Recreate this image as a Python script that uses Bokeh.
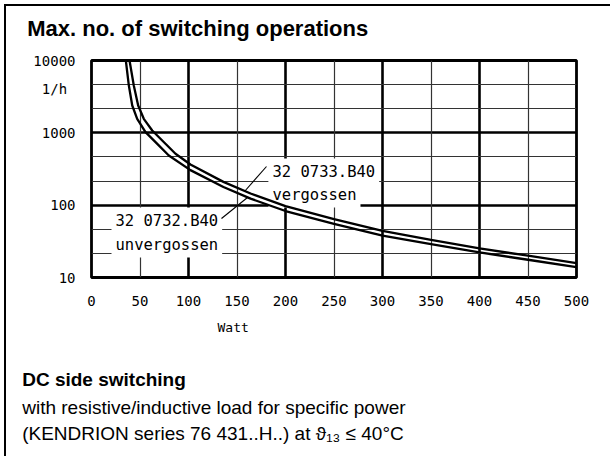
import math
from bokeh.plotting import figure
from bokeh.models import FixedTicker, Grid, Label, Range1d, Title
from bokeh.embed import file_html
from bokeh.resources import INLINE

# ---------------- data ----------------
watt_ticks = [0, 50, 100, 150, 200, 250, 300, 350, 400, 450, 500]
n_ticks = [10, 100, 1000, 4100, 10000]
n_tick_labels = ["10", "100", "1000", "1/h\u00a0", "10000"]
x_major_grid = [100, 200, 300, 400]
x_minor_grid = [50, 150, 250, 350, 450]
y_major_grid = [100, 1000]
y_minor_grid = [21.54, 46.42, 215.4, 464.2, 2154, 4642]

# 32 0733.B40 vergossen (upper line of the pair)
verg_w = [39.2, 43.6, 48.1, 53.9, 62.6, 72.9, 86.6, 102, 136, 164, 200, 250, 300, 350, 400, 450, 500]
verg_n = [10000, 4508, 2388, 1563, 1077, 783, 513, 365, 210, 145, 97, 64, 44, 33, 25.2, 20, 15.8]
# 32 0732.B40 unvergossen (lower line of the pair)
unverg_w = [35.4, 38.5, 42.0, 47.1, 55.7, 66.0, 79.7, 102, 136, 164, 200, 250, 300, 350, 400, 450, 500]
unverg_n = [10000, 4508, 2388, 1563, 1021, 743, 486, 305, 178, 123, 83, 55, 38, 29, 22.2, 17.6, 13.9]

title_text = "Max. no. of switching operations"
x_label = "Watt"
label_verg = ["32 0733.B40", "vergossen"]
label_unverg = ["32 0732.B40", "unvergossen"]
foot_bold = "DC side switching"
foot_1 = "with resistive/inductive load for specific power"
foot_2 = "(KENDRION series 76 431..H..) at \u03d1\u2081\u2083 \u2264 40\u00b0C"

# ---------------- layout ----------------
OFF = 6                 # page offset of the canvas (margin 4 + border 2)
W, H = 606, 452
FL, FT, FR, FB = 91, 60, 576, 277   # frame edges in page px
X0, X1, Y0, Y1 = 0, 500, 10, 10000
PAD = 4

def dx(px):
    return X0 + (px - FL) / (FR - FL) * (X1 - X0)

def dy(py):
    l0, l1 = math.log10(Y0), math.log10(Y1)
    return 10 ** (l0 + (FB - py) / (FB - FT) * (l1 - l0))

MONO = "DejaVu Sans Mono"
SANS = "Liberation Sans"

p = figure(width=W, height=H, x_range=Range1d(X0, X1), y_range=Range1d(Y0, Y1),
           y_axis_type="log", output_backend="svg", toolbar_location=None, title=None,
           min_border_left=FL - OFF, min_border_top=FT - OFF,
           min_border_right=OFF + W - FR, min_border_bottom=OFF + H - FB)
p.styles = {"margin-left": "4px", "margin-top": "4px",
            "border-left": "2px solid black", "border-top": "2px solid black"}
p.background_fill_color = "white"
p.border_fill_color = "white"
p.outline_line_color = "black"
p.outline_line_width = 2.8

def side_title(txt, place, size, font=SANS, style="normal", px=21.7, standoff=0):
    p.add_layout(Title(text=txt, align="left", offset=px - FL, text_font=font,
                       text_font_size=size, text_font_style=style, text_color="black",
                       standoff=standoff), place)

# above: spacer next to the frame, then the heading
side_title("\u00a0", "above", "14.5px")
side_title(title_text, "above", "22px", style="bold", px=26.7, standoff=4)

for ax in (p.xaxis[0], p.yaxis[0]):
    ax.axis_line_color = None
    ax.major_tick_line_color = None
    ax.minor_tick_line_color = None
    ax.major_tick_out = 0
    ax.major_tick_in = 0
    ax.minor_tick_out = 0
    ax.minor_tick_in = 0
    ax.major_label_text_font = MONO
    ax.major_label_text_font_size = "14px"
    ax.major_label_text_color = "black"

p.xaxis.ticker = FixedTicker(ticks=watt_ticks)
p.xaxis.major_label_standoff = 18
p.yaxis.ticker = FixedTicker(ticks=n_ticks)
p.yaxis.major_label_overrides = {t: s for t, s in zip(n_ticks, n_tick_labels)}
p.yaxis.major_label_standoff = 16

p.xgrid.ticker = FixedTicker(ticks=x_major_grid)
p.xgrid.grid_line_color = "black"
p.xgrid.grid_line_width = 2.6
p.ygrid.ticker = FixedTicker(ticks=y_major_grid)
p.ygrid.grid_line_color = "black"
p.ygrid.grid_line_width = 2.6
p.add_layout(Grid(dimension=0, ticker=FixedTicker(ticks=x_minor_grid),
                  grid_line_color="#333333", grid_line_width=1.2))
p.add_layout(Grid(dimension=1, ticker=FixedTicker(ticks=y_minor_grid),
                  grid_line_color="#333333", grid_line_width=1.2))

# label boxes (white, masking the grid beneath); anchor compensates the padding
def box_label(txt, px, py):
    p.add_layout(Label(x=dx(px - PAD), y=dy(py - PAD), text=txt, text_font=MONO,
                       text_font_size="15.5px", text_color="black", text_align="left",
                       text_baseline="alphabetic", background_fill_color="white",
                       padding=PAD, level="underlay"))

box_label(label_verg[0], 272, 175)
box_label(label_verg[1], 272, 198)
box_label(label_unverg[0], 115, 224)
box_label(label_unverg[1], 115, 248)

# curves
p.line(unverg_w, unverg_n, line_color="black", line_width=2.3, line_join="round")
p.line(verg_w, verg_n, line_color="black", line_width=2.3, line_join="round")

# leader lines
p.segment(x0=[dx(266), dx(221)], y0=[dy(166), dy(218)],
          x1=[dx(244), dx(247)], y1=[dy(191), dy(197)],
          line_color="black", line_width=1.1)

# below: axis unit, spacer, then the notes
side_title(x_label, "below", "13px", font=MONO, px=217, standoff=18)
side_title("\u00a0", "below", "16.4px")
side_title(foot_bold, "below", "19px", style="bold", standoff=6)
side_title(foot_1, "below", "19px", standoff=4)
side_title(foot_2, "below", "19px", standoff=2)

open("out.html", "w").write(file_html(p, INLINE))
